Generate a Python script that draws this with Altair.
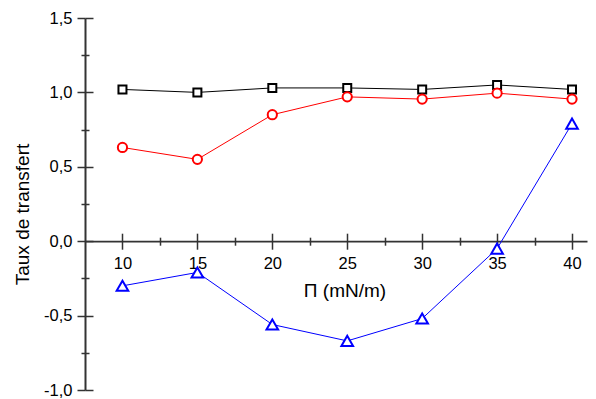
import altair as alt
import pandas as pd

pi_vals = [10, 15, 20, 25, 30, 35, 40]
noir = [1.02, 1.00, 1.03, 1.03, 1.02, 1.05, 1.02]
rouge = [0.63, 0.55, 0.85, 0.97, 0.955, 0.995, 0.955]
bleu = [-0.30, -0.21, -0.56, -0.67, -0.52, -0.05, 0.79]

series_names = ["noir", "rouge", "bleu"]
series_colors = ["#000000", "#ff0000", "#0000ff"]

x_major = [10, 15, 20, 25, 30, 35, 40]
x_minor = [12.5, 17.5, 22.5, 27.5, 32.5, 37.5]
y_major = [-1.0, -0.5, 0.0, 0.5, 1.0, 1.5]
y_minor = [-0.75, -0.25, 0.25, 0.75, 1.25]

X_DOMAIN = [7.5, 41]
Y_DOMAIN = [-1.0, 1.5]
W, H = 502, 372

rows = []
for name, vals in zip(series_names, [noir, rouge, bleu]):
    for p, v in zip(pi_vals, vals):
        rows.append({"pi": p, "taux": v, "serie": name})
df = pd.DataFrame(rows)

AX_COLOR = "#333333"
FONT = "Liberation Sans"
label_expr = "(datum.value < 0 ? '-' : '') + replace(format(abs(datum.value), '.1f'), '.', ',')"

def xs(axis):
    return alt.X("pi:Q", scale=alt.Scale(domain=X_DOMAIN, nice=False, zero=False), axis=axis)

def ys(axis):
    return alt.Y("taux:Q", scale=alt.Scale(domain=Y_DOMAIN, nice=False, zero=False), axis=axis)

x_main = alt.Axis(orient="bottom", offset=-0.4 * H, values=x_major, tickSize=8, tickWidth=1.5,
                  tickColor=AX_COLOR, domainColor=AX_COLOR, domainWidth=1.8, labelFont=FONT,
                  labelFontSize=16.5, labelColor="#000", labelPadding=6, grid=False, format="d",
                  title="Π (mN/m)", titleFont=FONT, titleFontSize=19, titleFontWeight="normal",
                  titleColor="#000", titleX=259.5, titleY=49, titleBaseline="middle", titleAlign="center")
x_top = alt.Axis(orient="top", offset=-0.6 * H, values=x_major, tickSize=8, tickWidth=1.5,
                 tickColor=AX_COLOR, domain=False, labels=False, grid=False, title=None)
x_minor_b = alt.Axis(orient="bottom", offset=-0.4 * H, values=x_minor, tickSize=4, tickWidth=1.5,
                     tickColor=AX_COLOR, domain=False, labels=False, grid=False, title=None)
x_minor_t = alt.Axis(orient="top", offset=-0.6 * H, values=x_minor, tickSize=4, tickWidth=1.5,
                     tickColor=AX_COLOR, domain=False, labels=False, grid=False, title=None)

y_main = alt.Axis(orient="left", values=y_major, tickSize=8, tickWidth=1.5, tickColor=AX_COLOR,
                  domainColor=AX_COLOR, domainWidth=2, labelFont=FONT, labelFontSize=16.5,
                  labelColor="#000", labelPadding=5, labelExpr=label_expr, grid=False,
                  title="Taux de transfert", titleFont=FONT, titleFontSize=19, titleFontWeight="normal",
                  titleColor="#000", titleX=-63, titleY=196, titleAngle=270, titleBaseline="middle",
                  titleAlign="center")
y_right = alt.Axis(orient="right", offset=-W, values=y_major, tickSize=8, tickWidth=1.5,
                   tickColor=AX_COLOR, domain=False, labels=False, grid=False, title=None)
y_minor_l = alt.Axis(orient="left", values=y_minor, tickSize=4, tickWidth=1.5, tickColor=AX_COLOR,
                     domain=False, labels=False, grid=False, title=None)
y_minor_r = alt.Axis(orient="right", offset=-W, values=y_minor, tickSize=4, tickWidth=1.5,
                     tickColor=AX_COLOR, domain=False, labels=False, grid=False, title=None)

color = alt.Color("serie:N", scale=alt.Scale(domain=series_names, range=series_colors), legend=None)

base = alt.Chart(df)

lines = base.mark_line(strokeWidth=1).encode(
    x=xs(x_main), y=ys(y_main), color=color, detail="serie:N"
)
squares = base.transform_filter("datum.serie == 'noir'").mark_point(
    shape="square", size=64, filled=False, fill="white", fillOpacity=1, strokeWidth=2, opacity=1,
    color="#000000"
).encode(x=xs(x_top), y=ys(y_right))
circles = base.transform_filter("datum.serie == 'rouge'").mark_point(
    shape="circle", size=85, filled=False, fill="white", fillOpacity=1, strokeWidth=2, opacity=1,
    color="#ff0000"
).encode(x=xs(x_minor_b), y=ys(y_minor_l))
triangles = base.transform_filter("datum.serie == 'bleu'").mark_point(
    shape="triangle-up", size=135, filled=False, fill="white", fillOpacity=1, strokeWidth=2, opacity=1,
    color="#0000ff"
).encode(x=xs(x_minor_t), y=ys(y_minor_r))

chart = alt.layer(lines, squares, circles, triangles).resolve_scale(
    x="independent", y="independent"
).properties(
    width=W, height=H,
    autosize=alt.AutoSizeParams(type="none"),
    padding={"left": 85, "top": 18, "right": 9, "bottom": 9},
    background="white",
).configure_view(stroke=None)

chart.save("out.html", embed_options={"renderer": "svg", "actions": False})
